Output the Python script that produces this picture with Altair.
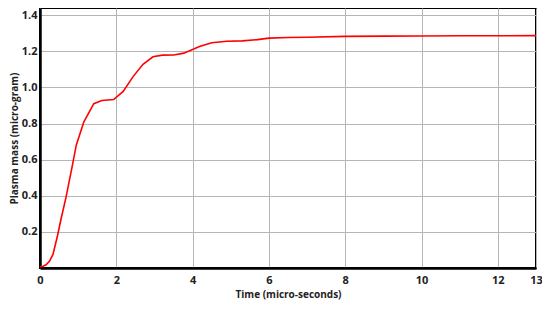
import altair as alt
import pandas as pd

time = [0.0, 0.08, 0.16, 0.25, 0.34, 0.46, 0.55, 0.68, 0.85, 0.95, 1.15, 1.41, 1.62, 1.93, 2.18, 2.44, 2.70, 2.96, 3.21, 3.51, 3.77, 4.18, 4.5, 4.9, 5.3, 5.7, 6.0, 6.5, 7.0, 8.0, 9.0, 10.0, 11.0, 12.0, 13.0]
mass = [0.007, 0.01, 0.018, 0.038, 0.075, 0.18, 0.27, 0.39, 0.57, 0.68, 0.81, 0.91, 0.928, 0.933, 0.978, 1.06, 1.128, 1.17, 1.179, 1.18, 1.19, 1.227, 1.248, 1.256, 1.258, 1.265, 1.273, 1.277, 1.278, 1.283, 1.284, 1.285, 1.286, 1.286, 1.287]

x_ticks = [0, 2, 4, 6, 8, 10, 12, 13]
y_ticks = [0.2, 0.4, 0.6, 0.8, 1.0, 1.2, 1.4]

df = pd.DataFrame({"t": time, "m": mass})

chart = alt.Chart(df).mark_line(color="#ff0000", strokeWidth=1.6, interpolate="linear").encode(
    x=alt.X("t:Q", scale=alt.Scale(domain=[0, 13], nice=False, zero=False),
            axis=alt.Axis(title="Time (micro-seconds)", values=x_ticks, format="d",
                          labelFlush=False)),
    y=alt.Y("m:Q", scale=alt.Scale(domain=[0, 1.44], nice=False),
            axis=alt.Axis(title="Plasma mass (micro-gram)", values=y_ticks, format=".1f")),
).properties(
    width=496, height=260,
    autosize=alt.AutoSizeParams(type="none"),
    padding={"left": 32, "top": 0, "right": 6, "bottom": 34},
).configure_view(
    stroke="black", strokeWidth=2
).configure_axis(
    labelFont="Open Sans", labelFontWeight="bold", labelFontSize=11, labelColor="#222222",
    titleFont="Open Sans", titleFontWeight="bold", titleFontSize=10, titleColor="#222222",
    gridColor="#b5b5b5", gridWidth=1, gridOpacity=1,
    domainColor="black", domainWidth=2.5, ticks=False,
).configure_axisX(
    labelPadding=6, titlePadding=4
).configure_axisY(
    labelPadding=3, titlePadding=2
)

chart.save("out.html", embed_options={"renderer": "svg", "actions": False})
